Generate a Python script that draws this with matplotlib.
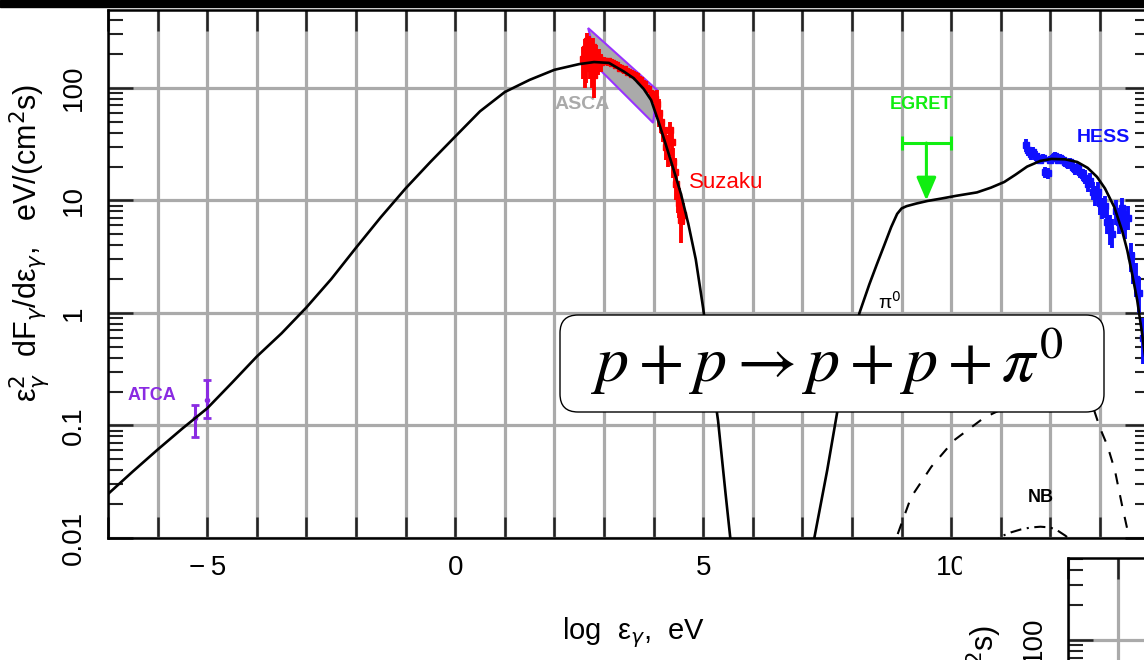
import matplotlib
matplotlib.use("Agg")
import matplotlib.pyplot as plt
from matplotlib.patches import FancyBboxPatch, Rectangle
from matplotlib.transforms import IdentityTransform
from matplotlib.ticker import MultipleLocator, FuncFormatter, LogLocator, NullFormatter

plt.rcParams['font.family'] = ['Liberation Sans', 'DejaVu Sans']
plt.rcParams['mathtext.fontset'] = 'dejavusans'
plt.rcParams['lines.scale_dashes'] = False

# ---- data (log10 energy in eV, flux eV/(cm^2 s)) ----
sync_x = [-7.0, -6.5, -6.0, -5.5, -5.0, -4.5, -4.0, -3.5, -3.0, -2.5, -2.0, -1.5, -1.0, -0.5,
          0.0, 0.5, 1.0, 1.5, 2.0, 2.5, 2.8, 3.1, 3.4, 3.6, 3.8, 3.95, 4.1, 4.25, 4.4, 4.55,
          4.7, 4.85, 5.0, 5.15, 5.3, 5.45, 5.6]
sync_y = [0.0246, 0.039, 0.061, 0.094, 0.142, 0.24, 0.41, 0.66, 1.12, 2.0, 3.8, 7.1, 12.8, 22,
          37, 62, 92, 118, 145, 163, 170, 167, 140, 122, 98, 78, 50, 31, 19, 11.5,
          6.2, 3.0, 1.1, 0.33, 0.11, 0.025, 0.006]

pp_x = [7.15, 7.24, 7.5, 7.7, 7.9, 8.15, 8.35, 8.5, 8.65, 8.79, 8.91, 9.0, 9.1, 9.3, 9.52, 9.8,
        10.1, 10.52, 10.8, 11.07, 11.3, 11.53, 11.8, 12.02, 12.3, 12.54, 12.75, 12.94, 13.1,
        13.29, 13.45, 13.55, 13.65, 13.75, 13.85, 13.95, 14.05]
pp_y = [0.006, 0.01, 0.04, 0.13, 0.35, 1.0, 1.8, 2.7, 4.0, 5.8, 7.6, 8.5, 8.9, 9.4, 9.9, 10.4,
        11.0, 11.8, 13.0, 14.6, 17.0, 20, 22.5, 23.4, 23.2, 22, 19.5, 16.2, 12.8,
        8.7, 5.3, 3.6, 2.2, 1.3, 0.65, 0.3, 0.12]

sec_x = [8.8, 8.91, 9.19, 9.6, 10.06, 10.66, 11.3, 12.0, 12.5, 12.88, 13.0, 13.15, 13.3, 13.45, 13.55, 13.65]
sec_y = [0.007, 0.0105, 0.023, 0.043, 0.074, 0.117, 0.16, 0.19, 0.175, 0.137, 0.095, 0.066, 0.040, 0.019, 0.012, 0.0075]

nb_x = [10.8, 11.0, 11.2, 11.4, 11.6, 11.8, 12.0, 12.15, 12.3, 12.45, 12.6]
nb_y = [0.0085, 0.0103, 0.0112, 0.0119, 0.0124, 0.0126, 0.0124, 0.0116, 0.0105, 0.0093, 0.008]

asca_x = [2.68, 4.07, 3.99, 2.88]
asca_y = [341, 96, 49, 151]

suz_x = [2.58, 2.61, 2.63, 2.65, 2.67, 2.69, 2.71, 2.73, 2.75, 2.77, 2.79, 2.81, 2.84, 2.87, 2.90, 2.94,
         3.00, 3.08, 3.16, 3.24, 3.32, 3.40, 3.48, 3.56, 3.64, 3.72, 3.80, 3.88, 3.96, 4.02,
         4.06, 4.10, 4.14, 4.18, 4.22, 4.26, 4.30, 4.34, 4.37, 4.40, 4.43, 4.46, 4.49, 4.52, 4.56, 4.60]
suz_y = [180, 220, 150, 260, 190, 240, 170, 210, 140, 230, 130, 180, 200, 165, 185, 170,
         175, 172, 168, 160, 152, 146, 140, 134, 128, 118, 108, 98, 88, 80,
         72, 60, 50, 42, 36, 30, 27, 42, 33, 22, 18, 14, 11, 9.5, 6.7, 7.5]
suz_lo = [120, 100, 110, 200, 150, 190, 120, 170, 100, 180, 81, 140, 160, 130, 150, 140,
          160, 158, 154, 147, 140, 134, 129, 123, 118, 108, 99, 90, 80, 73,
          55, 45, 40, 33, 28, 23, 20, 35, 26, 16, 13, 10, 7.7, 7, 4.2, 6]
suz_hi = [230, 270, 190, 310, 240, 290, 210, 250, 180, 280, 170, 220, 240, 200, 220, 200,
          190, 186, 182, 173, 164, 158, 151, 145, 138, 128, 117, 106, 96, 87,
          95, 80, 62, 52, 45, 38, 35, 50, 41, 29, 24, 19, 15, 13, 9, 9.5]

hess_x = [11.50, 11.55, 11.60, 11.65, 11.70, 11.75, 11.80, 11.85, 11.90, 11.95, 12.00, 12.05,
          12.10, 12.15, 12.20, 12.25, 12.30, 12.35, 12.40, 12.45, 12.50, 12.55, 12.60, 12.65,
          12.70, 12.75, 12.80, 12.85, 12.90, 12.95, 13.00, 13.05, 13.10, 13.15, 13.20, 13.25,
          13.32, 13.38, 13.44, 13.50, 13.56, 13.62, 13.67, 13.72, 13.78, 13.86]
hess_y = [31, 28, 26, 27, 25, 24, 23, 24, 18, 17.5, 23, 24,
          25, 23, 24, 23, 22, 21, 22, 20, 19, 20, 18, 17,
          16, 14, 15, 12, 11, 12, 9.5, 8.5, 9, 6.5, 5.5, 5,
          8, 6.5, 8.5, 6, 7, 3.2, 2.5, 2.0, 1.5, 0.6]
hess_lo = [27, 25, 23, 24, 22.5, 21.5, 21, 22, 16, 15.5, 21, 22,
           23, 21, 22, 21, 20, 19, 20, 18, 17, 18, 16, 15,
           14, 12, 13, 10, 9, 10, 7.5, 6.8, 7, 5, 4, 3.8,
           6, 5, 6.5, 4.5, 5.5, 2.3, 1.8, 1.4, 1.0, 0.35]
hess_hi = [35, 32, 29, 30, 27.5, 26.5, 25.5, 26, 20, 19.5, 25, 26,
           27, 25, 26, 25, 24, 23, 24, 22, 21, 22, 20, 19,
           18.5, 16.5, 17.5, 14.5, 13.5, 14.5, 12, 10.5, 11, 8.3, 7.5, 6.8,
           10, 8.5, 10.5, 8, 9, 4.2, 3.5, 2.8, 2.1, 0.9]

atca_x = [-5.24, -5.0]
atca_y = [0.117, 0.169]
atca_lo = [0.079, 0.117]
atca_hi = [0.152, 0.254]

egret_x, egret_dx, egret_y, egret_to = 9.5, 0.5, 32.4, 10.0

W, H = 1144, 660


def box(x0, top, w, h):
    return [x0 / W, (H - top - h) / H, w / W, h / H]


fig = plt.figure(figsize=(W / 100, H / 100), dpi=100)
fig.add_artist(Rectangle((0, (H - 7) / H), 1, 7 / H, transform=fig.transFigure,
                         color='black', zorder=5))

gridc = '#aaaaaa'
ax = fig.add_axes(box(108, 10, 1041.6, 528))
ax.set_yscale('log')
ax.set_xlim(-7, 14)
ax.set_ylim(0.01, 10 ** 2.693)
ax.grid(True, which='major', color=gridc, lw=2.3)
ax.set_axisbelow(True)
for s in ax.spines.values():
    s.set_linewidth(1.8)
ax.xaxis.set_major_locator(MultipleLocator(1))
ax.xaxis.set_major_formatter(FuncFormatter(
    lambda v, p: ('%d' % v).replace('-', '\u2212\u2009') if abs(v % 5) < 1e-6 else ''))
ax.yaxis.set_major_locator(LogLocator(base=10))
ax.yaxis.set_minor_locator(LogLocator(base=10, subs=range(2, 10)))
ax.yaxis.set_minor_formatter(NullFormatter())
ax.yaxis.set_major_formatter(FuncFormatter(lambda v, p: '%g' % v))
ax.tick_params(axis='x', which='major', direction='in', length=15, width=1.8,
               color='#222222', top=True, labelsize=20, pad=12)
ax.tick_params(axis='y', which='major', direction='in', length=18, width=1.8,
               color='#222222', right=True, labelsize=20, pad=15, labelrotation=90)
ax.tick_params(axis='y', which='minor', direction='in', length=11, width=1.5,
               color='#222222', right=True)
for lab in ax.get_yticklabels():
    lab.set_va('center')

ax.fill(asca_x, asca_y, facecolor='#aaaaaa', edgecolor='#9933ff', lw=1.5, zorder=2)
ax.text(2.56, 72, 'ASCA', color='#aaaaaa', fontsize=14, fontweight='bold',
        ha='center', va='center', zorder=2)

suz_err = [[y - l for y, l in zip(suz_y, suz_lo)], [h - y for y, h in zip(suz_y, suz_hi)]]
ax.errorbar(suz_x, suz_y, yerr=suz_err, fmt='s', ms=5, color='#ff0000', ecolor='#ff0000',
            elinewidth=2.8, capsize=0, zorder=3)
hess_err = [[y - l for y, l in zip(hess_y, hess_lo)], [h - y for y, h in zip(hess_y, hess_hi)]]
ax.errorbar(hess_x, hess_y, yerr=hess_err, fmt='s', ms=5, color='#1010ff', ecolor='#1010ff',
            elinewidth=2.8, capsize=0, zorder=3)
atca_err = [[y - l for y, l in zip(atca_y, atca_lo)], [h - y for y, h in zip(atca_y, atca_hi)]]
ax.errorbar(atca_x, atca_y, yerr=atca_err, fmt='o', ms=3, color='#8a2be2', ecolor='#8a2be2',
            elinewidth=2.2, capsize=3, capthick=2, zorder=3)

ax.plot(sync_x, sync_y, color='black', lw=1.9, zorder=4)
ax.plot(pp_x, pp_y, color='black', lw=1.9, zorder=4)
ax.plot(sec_x, sec_y, color='black', lw=1.5, ls=(0, (8, 8)), zorder=4)
ax.plot(nb_x, nb_y, color='black', lw=1.5, ls=(0, (8, 4, 1.5, 4)), zorder=4)

green = '#11ee11'
ax.errorbar([egret_x], [egret_y], xerr=[egret_dx], fmt='none', ecolor=green,
            elinewidth=2.2, capsize=5, capthick=2.2, zorder=4)
ax.annotate('', xy=(egret_x, egret_to), xytext=(egret_x, egret_y),
            arrowprops=dict(arrowstyle='-|>,head_width=0.3,head_length=0.7', color=green,
                            lw=2.2, shrinkA=0, shrinkB=0, mutation_scale=20), zorder=4)

ax.text(9.40, 70.6, 'EGRET', color=green, fontsize=13, fontweight='bold', ha='center', va='center')
ax.text(13.06, 36.6, 'HESS', color='#1010ff', fontsize=14, fontweight='bold', ha='center', va='center')
ax.text(5.46, 14.3, 'Suzaku', color='#ff0000', fontsize=16, ha='center', va='center')
ax.text(-6.11, 0.183, 'ATCA', color='#8a2be2', fontsize=13, fontweight='bold', ha='center', va='center')
ax.text(11.81, 0.0231, 'NB', color='black', fontsize=13, fontweight='bold', ha='center', va='center')
ax.text(8.75, 1.25, 'π$^0$', color='black', fontsize=14, ha='center', va='center')

fig.text(633 / W, (H - 633) / H, 'log  ε$_\\gamma$,  eV', fontsize=21, ha='center', va='center')
ylab = 'ε$^2_\\gamma$  dF$_\\gamma$/dε$_\\gamma$,   eV/(cm$^2$s)'
fig.text(30 / W, (H - 243) / H, ylab, fontsize=22, rotation=90, ha='center', va='center')

# reaction box
fig.add_artist(FancyBboxPatch((560, H - 412), 544, 97,
                              boxstyle='round,pad=0,rounding_size=18',
                              transform=IdentityTransform(), fc='white', ec='black', lw=1.0,
                              zorder=6))
fig.text(827 / W, (H - 382) / H, r'$p+p\rightarrow p+p+\pi^0$', fontsize=47.5,
         math_fontfamily='stix', ha='center', va='baseline', zorder=7)

# second (cut-off) figure at lower right
fig.add_artist(Rectangle((962 / W, 0), 1, (H - 555) / H, transform=fig.transFigure,
                         color='white', zorder=6))
ax2 = fig.add_axes(box(1068, 558, 1000, 546))
ax2.set_zorder(8)
ax2.set_yscale('log')
ax2.set_xlim(-7, 13)
ax2.set_ylim(0.01, 10 ** 2.707)
ax2.grid(True, which='major', color=gridc, lw=2.3)
ax2.set_axisbelow(True)
for s in ax2.spines.values():
    s.set_linewidth(1.8)
ax2.xaxis.set_major_locator(MultipleLocator(1))
ax2.xaxis.set_major_formatter(NullFormatter())
ax2.yaxis.set_major_locator(LogLocator(base=10))
ax2.yaxis.set_minor_locator(LogLocator(base=10, subs=range(2, 10)))
ax2.yaxis.set_minor_formatter(NullFormatter())
ax2.yaxis.set_major_formatter(FuncFormatter(lambda v, p: '%g' % v))
ax2.tick_params(axis='x', which='major', direction='in', length=15, width=1.8, color='#222222', top=True)
ax2.tick_params(axis='y', which='major', direction='in', length=18, width=1.8,
                color='#222222', labelsize=20, pad=15, labelrotation=90)
ax2.tick_params(axis='y', which='minor', direction='in', length=11, width=1.5, color='#222222')
for lab in ax2.get_yticklabels():
    lab.set_va('center')
fig.text(987 / W, (H - 625) / H, ylab, fontsize=22, rotation=90, ha='center', va='top', zorder=9)

fig.savefig('out.png', dpi=100)
